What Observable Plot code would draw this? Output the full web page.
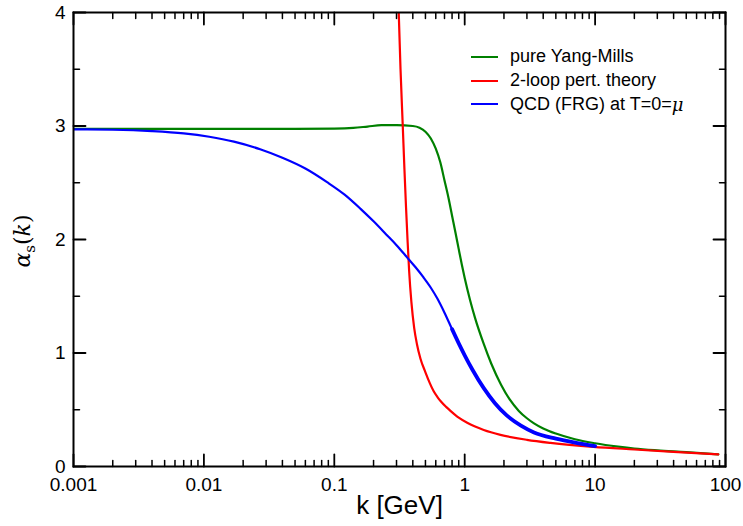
<!DOCTYPE html>
<html>
<head>
<meta charset="utf-8">
<script src="https://cdn.jsdelivr.net/npm/d3@7"></script>
<script src="https://cdn.jsdelivr.net/npm/@observablehq/plot@0.6"></script>
<style>
  html, body { margin: 0; padding: 0; background: #fff; }
  #wrap { position: relative; width: 743px; height: 526px; }
  .legend { position: absolute; left: 471px; top: 45px; font-family: "Liberation Sans", Arial, sans-serif; font-size: 18px; color: #000; }
  .legend .row { display: flex; align-items: center; height: 23.7px; }
  .legend .sw { width: 27px; height: 0; border-top: 2.5px solid; margin-right: 12px; }
  .mu { font-family: "DejaVu Serif", serif; font-style: italic; }
</style>
</head>
<body>
<div id="wrap"></div>
<script>
// ---- data (k in GeV, alpha_s) ----
const ymK  = [0.001, 0.01, 0.05, 0.1, 0.14, 0.18, 0.23, 0.3, 0.4, 0.45, 0.5, 0.55, 0.6, 0.65, 0.7, 0.75, 0.8, 0.85, 0.9, 0.95, 1.0, 1.1, 1.2, 1.4, 1.6, 1.9, 2.2, 2.6, 3.0, 3.4, 4, 5, 7, 10, 15, 20, 30, 50, 88];
const ymA  = [2.975, 2.975, 2.975, 2.977, 2.983, 2.995, 3.007, 3.008, 3.0, 2.985, 2.95, 2.89, 2.80, 2.68, 2.52, 2.37, 2.21, 2.06, 1.915, 1.78, 1.66, 1.465, 1.31, 1.08, 0.905, 0.72, 0.595, 0.49, 0.425, 0.38, 0.335, 0.29, 0.24, 0.205, 0.175, 0.158, 0.142, 0.127, 0.107];

const pertK = [0.31, 0.322, 0.335, 0.345, 0.355, 0.365, 0.375, 0.39, 0.41, 0.43, 0.458, 0.5, 0.54, 0.577, 0.62, 0.66, 0.72, 0.778, 0.9, 1.045, 1.4, 1.88, 3, 4.55, 9.7, 20, 40, 88];
const pertA = [4.1, 3.5, 3.0, 2.62, 2.28, 1.98, 1.72, 1.45, 1.22, 1.08, 0.95, 0.83, 0.735, 0.665, 0.61, 0.57, 0.525, 0.49, 0.43, 0.385, 0.322, 0.279, 0.235, 0.208, 0.173, 0.15, 0.129, 0.107];

const qcdK = [0.001, 0.002, 0.004, 0.007, 0.011, 0.017, 0.027, 0.04, 0.06, 0.088, 0.12, 0.159, 0.2, 0.25, 0.3, 0.36, 0.42, 0.48, 0.55, 0.62, 0.7, 0.8, 0.9, 1.0, 1.15, 1.4, 1.7, 2.1, 2.7, 3.4, 5, 7, 10];
const qcdA = [2.970, 2.967, 2.955, 2.935, 2.905, 2.862, 2.795, 2.72, 2.625, 2.505, 2.395, 2.27, 2.16, 2.045, 1.95, 1.845, 1.755, 1.67, 1.575, 1.475, 1.355, 1.21, 1.085, 0.98, 0.85, 0.69, 0.56, 0.45, 0.36, 0.30, 0.245, 0.21, 0.18];

const seriesNames  = ["pure Yang-Mills", "2-loop pert. theory", "QCD (FRG) at T=0="];
const seriesColors = ["#008000", "#ff0000", "#0000ff"];

const xTicks = [0.001, 0.01, 0.1, 1, 10, 100];
const xTickLabels = ["0.001", "0.01", "0.1", "1", "10", "100"];
const yTicks = [0, 1, 2, 3, 4];
const yTickLabels = ["0", "1", "2", "3", "4"];
const yMinor = [0.5, 1.5, 2.5, 3.5];

// ---- layout ----
const W = 743, H = 526;
const mL = 73, mR = 18, mT = 12, mB = 60;
const innerW = W - mL - mR, innerH = H - mT - mB;
const xDom = [0.001, 100], yDom = [0, 4];
const majLen = 12, minLen = 6;

const xMinor = [];
for (let e = -3; e < 2; e++) for (let m = 2; m <= 9; m++) xMinor.push(m * Math.pow(10, e));

const ym   = ymK.map((k, i) => ({k, a: ymA[i]}));
const pert = pertK.map((k, i) => ({k, a: pertA[i]}));
const qcd  = qcdK.map((k, i) => ({k, a: qcdA[i]}));

// inward tick segments on all four sides, expressed in data units of each scale
const dy = len => (yDom[1] - yDom[0]) * len / innerH;
const fx = len => Math.pow(xDom[1] / xDom[0], len / innerW);
function tickSegs(xv, yv, len) {
  const pts = [];
  let id = 0;
  for (const v of xv) {
    pts.push({id, x: v, y: yDom[0]}, {id, x: v, y: yDom[0] + dy(len)}); id++;
    pts.push({id, x: v, y: yDom[1]}, {id, x: v, y: yDom[1] - dy(len)}); id++;
  }
  for (const v of yv) {
    pts.push({id, x: xDom[0], y: v}, {id, x: xDom[0] * fx(len), y: v}); id++;
    pts.push({id, x: xDom[1], y: v}, {id, x: xDom[1] / fx(len), y: v}); id++;
  }
  return pts;
}
const majorTicks = tickSegs(xTicks, yTicks, majLen);
const minorTicks = tickSegs(xMinor, yMinor, minLen);

const chart = Plot.plot({
  width: W, height: H,
  marginLeft: mL, marginRight: mR, marginTop: mT, marginBottom: mB,
  x: {type: "log", domain: xDom},
  y: {domain: yDom},
  style: {fontFamily: "'Liberation Sans', Arial, sans-serif", fontSize: "19px", color: "#000", background: "#fff"},
  marks: [
    Plot.line(ym,   {x: "k", y: "a", stroke: seriesColors[0], strokeWidth: 2.2, curve: "monotone-x", clip: true}),
    Plot.line(pert, {x: "k", y: "a", stroke: seriesColors[1], strokeWidth: 2.2, curve: "monotone-x", clip: true}),
    Plot.line(qcd,  {x: "k", y: "a", stroke: seriesColors[2], strokeWidth: 2.2, curve: "monotone-x", clip: true}),
    Plot.line(qcd.filter(d => d.k >= 0.8), {x: "k", y: "a", stroke: seriesColors[2], strokeWidth: 3.8, curve: "monotone-x", clip: true}),
    Plot.line(majorTicks, {x: "x", y: "y", z: "id", stroke: "#000", strokeWidth: 1.8}),
    Plot.line(minorTicks, {x: "x", y: "y", z: "id", stroke: "#000", strokeWidth: 1.5}),
    Plot.frame({stroke: "#000", strokeWidth: 2}),
    Plot.axisX(xTicks, {tickSize: 0, tickPadding: 11, tickFormat: d => xTickLabels[xTicks.indexOf(d)], label: null, fill: "#000"}),
    Plot.axisY(yTicks, {tickSize: 0, tickPadding: 8, tickFormat: d => yTickLabels[yTicks.indexOf(d)], label: null, fill: "#000"}),
    Plot.text(["k [GeV]"], {frameAnchor: "bottom", dy: 47, fontSize: 26, fill: "#000"})
  ]
});

document.getElementById("wrap").appendChild(chart);
const svg = d3.select(chart);

// y-axis label with Greek letter and subscript
const yl = svg.append("text")
  .attr("transform", `translate(30,${mT + innerH / 2 + 2}) rotate(-90)`)
  .attr("text-anchor", "middle")
  .attr("font-family", "'DejaVu Serif', serif")
  .attr("font-style", "italic")
  .attr("font-size", 22)
  .attr("fill", "#000");
yl.append("tspan").text("α");
yl.append("tspan").attr("font-size", 15).attr("font-style", "normal").attr("dy", 5).text("s");
yl.append("tspan").attr("dy", -5).attr("font-style", "normal").text("(");
yl.append("tspan").text("k");
yl.append("tspan").attr("font-style", "normal").text(")");

// legend
const leg = document.createElement("div");
leg.className = "legend";
seriesNames.forEach((name, i) => {
  const row = document.createElement("div");
  row.className = "row";
  const sw = document.createElement("span");
  sw.className = "sw";
  sw.style.borderColor = seriesColors[i];
  const tx = document.createElement("span");
  tx.textContent = name;
  row.appendChild(sw);
  row.appendChild(tx);
  if (i === 2) {
    const mu = document.createElement("span");
    mu.className = "mu";
    mu.textContent = "μ";
    row.appendChild(mu);
  }
  leg.appendChild(row);
});
document.getElementById("wrap").appendChild(leg);
</script>
</body>
</html>
